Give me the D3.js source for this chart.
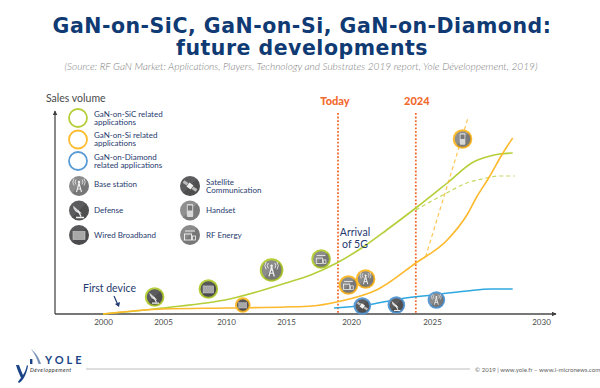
<!DOCTYPE html>
<html>
<head>
<meta charset="utf-8">
<script src="https://cdn.jsdelivr.net/npm/d3@7"></script>
<style>
    html, body { margin: 0; padding: 0; background: #fff; }
    svg { display: block; }
    text { font-family: Lato, "Open Sans", sans-serif; }
    text.title { font-family: "DejaVu Sans", sans-serif; }
</style>
</head>
<body>
<div id="chart"></div>
<script>
// Chart data (sales volume is in arbitrary units)
const tickYears = [2000, 2005, 2010, 2015, 2020, 2025, 2030];
const markerYears = [2019, 2024];
const markerLabels = ['Today', '2024'];

const sicYears = [2000, 2005, 2010.3, 2015, 2016.9, 2018.9, 2020.75, 2022.2, 2024, 2025.7, 2026.9, 2027.5, 2028.1, 2028.7];
const sicValues = [0, 3, 7.5, 15.5, 19.5, 25.5, 33.5, 42, 53, 65.5, 76, 78.5, 80, 80.5];
const sicAltYears = [2024, 2025.5, 2026.6, 2027.5, 2028.1, 2028.8];
const sicAltValues = [52, 59.5, 65.5, 68, 69, 69];

const siYears = [2000, 2005, 2010, 2015, 2017, 2018.9, 2021.7, 2024, 2025.7, 2026.6, 2027.05, 2027.6, 2028.2, 2028.7];
const siValues = [0, 2.5, 3, 3.5, 4, 6, 12.5, 25.5, 37, 49.5, 58.5, 68, 79.5, 88];
const siAltYears = [2024.6, 2026.65];
const siAltValues = [28.5, 98];

const diamondYears = [2018.7, 2021, 2023, 2025, 2026.6, 2027.7, 2028.7];
const diamondValues = [3, 4.5, 7.5, 9.5, 11.5, 12.5, 12.5];

// Application bubbles on the curves
const bubbleYears = [2004.3, 2008.6, 2011.4, 2013.8, 2017.7, 2019.8, 2020.9, 2020.7, 2022.8, 2025.2, 2026.4];
const bubbleValues = [8.5, 12.5, 4.5, 22, 27.5, 14.5, 17.5, 4, 4.5, 7, 87.5];
const bubbleKinds = ['defense', 'wired', 'wired', 'base', 'rf', 'rf', 'base', 'satellite', 'defense', 'base', 'handset'];
const bubbleSeries = ['sic', 'sic', 'si', 'sic', 'sic', 'si', 'si', 'diamond', 'diamond', 'diamond', 'si'];
const bubbleSizes = [10, 10, 8, 12, 10, 10, 10, 9, 9, 9, 10];

const legendSeries = ['sic', 'si', 'diamond'];
const legendLabels = [['GaN-on-SiC related', 'applications'], ['GaN-on-Si related', 'applications'], ['GaN-on-Diamond', 'related applications']];
const appKinds = ['base', 'defense', 'wired', 'satellite', 'handset', 'rf'];
const appLabels = [['Base station'], ['Defense'], ['Wired Broadband'], ['Satellite', 'Communication'], ['Handset'], ['RF Energy']];

const width = 600;
const height = 388;
const NAVY = '#1f3a6e';
const ORANGE = '#f26a2e';
const lineColors = { sic: '#b5cf3a', si: '#fdb92c', diamond: '#2fa8e0' };
const ringColors = { sic: '#b5cf3a', si: '#fdbb2d', diamond: '#5b9bd5' };
const kindFill = { base: '#8b8b8b', defense: '#5c5c5e', wired: '#58585a', satellite: '#5c5c5e', handset: '#8f8f8f', rf: '#8b8b8b' };

const svg = d3.select('#chart').append('svg')
    .attr('width', width)
    .attr('height', height);

// Title block
const titleLines = ['GaN-on-SiC, GaN-on-Si, GaN-on-Diamond:', 'future developments'];
svg.selectAll('.title').data(titleLines).enter().append('text')
    .attr('class', 'title')
    .attr('x', 302)
    .attr('y', (d, i) => 33 + i * 22)
    .attr('text-anchor', 'middle')
    .attr('fill', '#0f3a73')
    .attr('font-size', 20.5)
    .attr('font-weight', 700)
    .attr('letter-spacing', 0.5)
    .text(d => d);

svg.append('text')
    .attr('x', 301)
    .attr('y', 69.5)
    .attr('text-anchor', 'middle')
    .attr('fill', '#808080')
    .attr('font-size', 10.1)
    .attr('font-weight', 300)
    .attr('font-style', 'italic')
    .text('(Source: RF GaN Market: Applications, Players, Technology and Substrates 2019 report, Yole Développement, 2019)');

// The time axis in the picture is not even, so the scale is piecewise
const x = d3.scaleLinear()
    .domain(tickYears)
    .range([103, 163, 226, 286, 351, 432, 541]);
const y = d3.scaleLinear().domain([0, 100]).range([314, 114]);

const axisG = svg.append('g')
    .attr('transform', `translate(0,${y(0)})`)
    .call(d3.axisBottom(x).tickValues(tickYears).tickSize(0).tickPadding(5).tickFormat(d3.format('d')));
axisG.select('.domain').remove();
axisG.selectAll('text')
    .attr('fill', '#4a4a4a')
    .attr('font-size', 8);

// Axes lines with arrow heads
const defs = svg.append('defs');
defs.append('marker')
    .attr('id', 'arrow')
    .attr('viewBox', '0 0 8 8')
    .attr('refX', 7).attr('refY', 4)
    .attr('markerWidth', 5).attr('markerHeight', 5)
    .attr('markerUnits', 'userSpaceOnUse')
    .attr('orient', 'auto')
    .append('path')
    .attr('d', 'M0,0L8,4L0,8Z')
    .attr('fill', '#3f3f3f');

svg.append('path')
    .attr('d', `M55,${y(0)}L55,111`)
    .attr('fill', 'none')
    .attr('stroke', '#4a4a4a')
    .attr('stroke-width', 1.3)
    .attr('marker-end', 'url(#arrow)');
svg.append('path')
    .attr('d', `M55,${y(0)}L556,${y(0)}`)
    .attr('fill', 'none')
    .attr('stroke', '#4a4a4a')
    .attr('stroke-width', 1.5)
    .attr('marker-end', 'url(#arrow)');

svg.append('text')
    .attr('x', 46).attr('y', 102)
    .attr('fill', '#4a4a4a')
    .attr('font-size', 10.5)
    .text('Sales volume');

// Today / 2024 markers
svg.selectAll('.marker').data(markerYears).enter().append('line')
    .attr('class', 'marker')
    .attr('x1', d => x(d)).attr('x2', d => x(d))
    .attr('y1', 113).attr('y2', y(0))
    .attr('stroke', ORANGE)
    .attr('stroke-width', 1.8)
    .attr('stroke-dasharray', '1.8 1.8');
svg.selectAll('.marker-label').data(markerYears).enter().append('text')
    .attr('class', 'marker-label')
    .attr('x', (d, i) => x(d) + (i === 0 ? -3 : 1))
    .attr('y', 105)
    .attr('text-anchor', 'middle')
    .attr('fill', ORANGE)
    .attr('font-size', 11)
    .attr('font-weight', 900)
    .text((d, i) => markerLabels[i]);

// Curves
const curve = d3.line()
    .x(d => x(d[0]))
    .y(d => y(d[1]))
    .curve(d3.curveMonotoneX);

function drawCurve(years, values, color, dashed) {
    svg.append('path')
        .datum(d3.zip(years, values))
        .attr('d', curve)
        .attr('fill', 'none')
        .attr('stroke', color)
        .attr('stroke-width', dashed ? 1.2 : 1.6)
        .attr('stroke-dasharray', dashed ? '4 3' : null)
        .attr('stroke-opacity', dashed ? 0.8 : 1);
}
drawCurve(sicYears, sicValues, lineColors.sic, false);
drawCurve(sicAltYears, sicAltValues, lineColors.sic, true);
drawCurve(siAltYears, siAltValues, lineColors.si, true);
drawCurve(siYears, siValues, lineColors.si, false);
drawCurve(diamondYears, diamondValues, lineColors.diamond, false);

// Small white pictograms, drawn in a box of about -10..10
function drawGlyph(g, kind) {
    const w = '#f2f2f2';
    if (kind === 'base') {
        g.append('path').attr('d', 'M-2.5,6L0,-3L2.5,6M-1.8,3L1.8,3M-1,0L1,0').attr('fill', 'none').attr('stroke', w).attr('stroke-width', 1.1);
        g.append('circle').attr('cy', -4).attr('r', 1.2).attr('fill', w);
        g.append('path').attr('d', 'M-3,-6.5A4,4 0 0 0 -3,-1.5M3,-6.5A4,4 0 0 1 3,-1.5M-5,-7.5A6,6 0 0 0 -5,-.5M5,-7.5A6,6 0 0 1 5,-.5').attr('fill', 'none').attr('stroke', w).attr('stroke-width', 0.8);
    } else if (kind === 'defense') {
        g.append('path').attr('d', 'M-6,-5A8,8 0 0 0 3,3Z').attr('fill', '#d8d8d8');
        g.append('path').attr('d', 'M-1,0L2,6M-3,7L5,7').attr('fill', 'none').attr('stroke', w).attr('stroke-width', 1.3);
    } else if (kind === 'wired') {
        g.append('rect').attr('x', -6).attr('y', -3.5).attr('width', 12).attr('height', 8).attr('fill', '#a8a8a8').attr('stroke', '#ccc').attr('stroke-width', 0.6);
    } else if (kind === 'satellite') {
        const s = g.append('g').attr('transform', 'rotate(35)');
        s.append('rect').attr('x', -8).attr('y', -1.5).attr('width', 5).attr('height', 3).attr('fill', '#bbb');
        s.append('rect').attr('x', 3).attr('y', -1.5).attr('width', 5).attr('height', 3).attr('fill', '#bbb');
        s.append('rect').attr('x', -2.5).attr('y', -2.5).attr('width', 5).attr('height', 5).attr('fill', w);
    } else if (kind === 'handset') {
        g.append('rect').attr('x', -3.2).attr('y', -6.5).attr('width', 6.4).attr('height', 13).attr('rx', 1).attr('fill', '#d8d8d8');
        g.append('rect').attr('x', -2.2).attr('y', -5).attr('width', 4.4).attr('height', 5).attr('fill', '#777');
    } else {
        g.append('rect').attr('x', -5.5).attr('y', -1).attr('width', 7).attr('height', 6).attr('fill', 'none').attr('stroke', w).attr('stroke-width', 0.9);
        g.append('rect').attr('x', 2.5).attr('y', 1).attr('width', 3).attr('height', 4).attr('fill', 'none').attr('stroke', w).attr('stroke-width', 0.8);
        g.append('path').attr('d', 'M-5,-4L5,-4').attr('stroke', '#ddd').attr('stroke-width', 1.2);
    }
}

let clipId = 0;
function drawIcon(parent, kind, cx, cy, r, ring) {
    const g = parent.append('g').attr('transform', `translate(${cx},${cy})`);
    const inner = ring ? r - 1.2 : r;
    const id = 'clip' + (clipId++);
    defs.append('clipPath').attr('id', id).append('circle').attr('r', inner);
    g.append('circle')
        .attr('r', inner)
        .attr('fill', kindFill[kind])
        .attr('stroke', ring || 'none')
        .attr('stroke-width', ring ? 2 : 0);
    // long shadow at the lower right of each icon
    g.append('path')
        .attr('d', 'M-12,12L12,-12L12,12Z')
        .attr('fill', '#000')
        .attr('fill-opacity', 0.14)
        .attr('clip-path', `url(#${id})`);
    drawGlyph(g.append('g').attr('transform', `scale(${inner / 10})`), kind);
}

const bubbleLayer = svg.append('g');
bubbleYears.forEach((yr, i) => {
    drawIcon(bubbleLayer, bubbleKinds[i], x(yr), y(bubbleValues[i]), bubbleSizes[i], ringColors[bubbleSeries[i]]);
});

// Legend, one text element with a tspan per line
function multiline(cx, cy, lines, size, gap) {
    const top = cy - (lines.length - 1) * gap / 2 + size * 0.35;
    svg.append('text')
        .attr('fill', NAVY)
        .attr('font-size', size)
        .selectAll('tspan').data(lines).enter().append('tspan')
        .attr('x', cx)
        .attr('y', (d, i) => top + i * gap)
        .text(d => d);
}

const legendY = d3.scalePoint().domain(legendSeries).range([118, 161]);
legendSeries.forEach((s, i) => {
    svg.append('circle')
        .attr('cx', 78).attr('cy', legendY(s))
        .attr('r', 9)
        .attr('fill', 'none')
        .attr('stroke', ringColors[s])
        .attr('stroke-width', 1.8);
    multiline(94, legendY(s), legendLabels[i], 8, 8);
});

const appRow = d3.scalePoint().domain([0, 1, 2]).range([186, 235]);
appKinds.forEach((k, i) => {
    const col = i < 3 ? 0 : 1;
    const row = i % 3;
    drawIcon(svg, k, col ? 190 : 79, appRow(row), 10, null);
    multiline(col ? 206 : 94, appRow(row) - (row === 0 && !col ? 2 : 0), appLabels[i], 8, 8);
});

// Annotations
svg.append('text').attr('x', 83).attr('y', 292)
    .attr('fill', NAVY).attr('font-size', 10.5).text('First device');
svg.append('path').attr('d', 'M114,296L118,305')
    .attr('stroke', NAVY).attr('stroke-width', 1.2).attr('fill', 'none');
svg.append('path').attr('d', 'M115,304L119,307L120,302Z').attr('fill', NAVY);
svg.append('text')
    .attr('text-anchor', 'middle')
    .attr('fill', NAVY)
    .attr('font-size', 10.5)
    .selectAll('tspan').data(['Arrival', 'of 5G']).enter().append('tspan')
    .attr('x', 355)
    .attr('y', (d, i) => 236 + i * 11.5)
    .text(d => d);

// Footer and logo
svg.append('line').attr('x1', 86).attr('x2', 470).attr('y1', 369).attr('y2', 369)
    .attr('stroke', '#bdbdbd').attr('stroke-width', 1);
svg.append('text').attr('x', 475).attr('y', 371.5)
    .attr('fill', '#666').attr('font-size', 6.1)
    .text('© 2019 | www.yole.fr – www.i-micronews.com');

const logo = svg.append('g').attr('fill', '#1c4587');
logo.append('path').attr('d', 'M16,365L19,365C21,370 22,373 23,375C25,372 26,369 27,365L28,366C27,372 24,380 19,383L18,382C19,380 20,379 21,378C19,373 17,369 16,365Z');
logo.append('rect').attr('x', 30).attr('y', 359).attr('width', 2.4).attr('height', 5);
logo.append('path').attr('d', 'M31,349C35,352 39,357 41,364L38.5,364C37,358 34,353 31,349Z').attr('fill', '#7a93b8');
logo.append('text').attr('x', 45).attr('y', 363.5)
    .attr('font-size', 11).attr('font-weight', 700).attr('letter-spacing', 3)
    .attr('fill', '#1c4587').text('YOLE');
svg.append('text').attr('x', 30).attr('y', 372)
    .attr('font-size', 5.4).attr('font-style', 'italic').attr('letter-spacing', 0.5)
    .attr('fill', '#333').text('Développement');
</script>
</body>
</html>
